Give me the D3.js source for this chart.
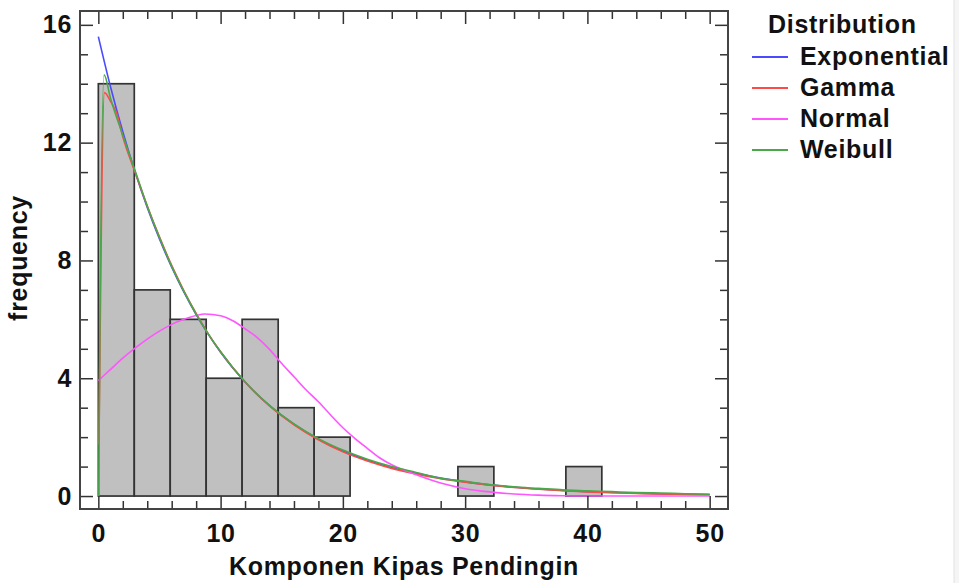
<!DOCTYPE html>
<html>
<head>
<meta charset="utf-8">
<script src="https://cdn.jsdelivr.net/npm/d3@7"></script>
<style>
  body { margin: 0; background: #fff; }
  text { font-family: "Liberation Sans", Arial, sans-serif; font-weight: bold; fill: #111; letter-spacing: 0.7px; }
</style>
</head>
<body>
<div id="container"></div>
<script>
// histogram bins (edges) and counts
var binEdges = [0, 2.94, 5.88, 8.82, 11.76, 14.71, 17.65, 20.59, 23.53, 26.47, 29.41, 32.35, 35.29, 38.24, 41.18, 44.12, 47.06, 50];
var counts = [14, 7, 6, 4, 6, 3, 2, 0, 0, 0, 1, 0, 0, 1, 0, 0, 0];

// fitted curves
var expX = [0, 1, 2, 3, 4, 5, 6, 7, 8, 9, 10, 12, 14, 16, 18, 20, 22, 24, 26, 28, 30, 32, 34, 36, 38, 40, 42, 44, 46, 48, 50];
var expY = [15.6, 13.89, 12.37, 11.01, 9.8, 8.73, 7.77, 6.92, 6.16, 5.49, 4.88, 3.87, 3.07, 2.44, 1.93, 1.53, 1.22, 0.96, 0.77, 0.61, 0.48, 0.38, 0.3, 0.24, 0.19, 0.15, 0.12, 0.095, 0.075, 0.06, 0.047];

var gammaX = [0.05, 0.5, 1, 1.5, 2, 3, 4, 5, 6, 7, 8, 9, 10, 12, 14, 16, 18, 20, 22, 24, 26, 28, 30, 32, 34, 36, 38, 40, 42, 44, 46, 48, 50];
var gammaY = [1.75, 13.7, 13.4, 13.0, 12.2, 11.0, 9.85, 8.8, 7.83, 6.97, 6.2, 5.5, 4.9, 3.87, 3.06, 2.42, 1.91, 1.5, 1.19, 0.94, 0.75, 0.59, 0.47, 0.37, 0.29, 0.23, 0.18, 0.14, 0.11, 0.09, 0.07, 0.055, 0.045];

var normX = [0, 1, 2, 3, 4, 5, 6, 7, 8, 8.7, 10, 11, 12, 13, 14, 15, 16, 17, 18, 19, 20, 21, 22, 23, 24, 25, 26, 28, 30, 32, 34, 36, 38, 40, 45, 50];
var normY = [3.92, 4.3, 4.68, 5.02, 5.33, 5.6, 5.83, 6.0, 6.13, 6.18, 6.12, 5.95, 5.68, 5.38, 4.98, 4.5, 4.05, 3.6, 3.2, 2.75, 2.32, 1.95, 1.62, 1.3, 1.06, 0.88, 0.72, 0.44, 0.25, 0.14, 0.07, 0.03, 0.01, 0, 0, 0];

var weibX = [0.04, 0.06, 0.47, 1, 2, 3, 4, 5, 6, 7, 8, 9, 10, 12, 14, 16, 18, 20, 22, 24, 26, 28, 30, 32, 34, 36, 38, 40, 42, 44, 46, 48, 50];
var weibY = [0, 1.75, 14.3, 13.5, 12.25, 11.05, 9.85, 8.78, 7.8, 6.95, 6.18, 5.5, 4.9, 3.88, 3.08, 2.45, 1.95, 1.56, 1.25, 1.0, 0.8, 0.6, 0.5, 0.39, 0.31, 0.26, 0.21, 0.18, 0.15, 0.12, 0.1, 0.08, 0.06];

var keys = ["Exponential", "Gamma", "Normal", "Weibull"];
var colors = ["#4a4aff", "#ff4a4a", "#ff55ff", "#4aa84a"];

var xTicks = [0, 10, 20, 30, 40, 50];
var yTicks = [0, 4, 8, 12, 16];

var width = 959;
var height = 583;
var margin = {left: 80, top: 11, right: 231, bottom: 74};

const svg = d3.select("#container")
              .append("svg")
              .attr("width", width)
              .attr("height", height);

// faint window edge on the right
svg.append("rect")
   .attr("x", 954).attr("y", 0)
   .attr("width", 5).attr("height", height)
   .attr("fill", "#f5f5f5");
svg.append("line")
   .attr("x1", 954).attr("x2", 954)
   .attr("y1", 0).attr("y2", height)
   .attr("stroke", "#e2e2e2");

var xScale = d3.scaleLinear()
               .domain([-1.5, 51.5])
               .range([margin.left, width - margin.right]);

var yScale = d3.scaleLinear()
               .domain([-0.44, 16.47])
               .range([height - margin.bottom, margin.top]);

var x0 = margin.left, x1 = width - margin.right;
var y0 = height - margin.bottom, y1 = margin.top;

// histogram bars
var bins = counts.map((c, i) => ({x0: binEdges[i], x1: binEdges[i + 1], n: c}));

svg.selectAll("rect.bar")
   .data(bins)
   .enter()
   .append("rect")
   .attr("class", "bar")
   .attr("x", d => xScale(d.x0))
   .attr("y", d => yScale(d.n))
   .attr("width", d => xScale(d.x1) - xScale(d.x0))
   .attr("height", d => yScale(0) - yScale(d.n))
   .attr("fill", "#c0c0c0")
   .attr("stroke", "#333")
   .attr("stroke-width", 1.7);

// curves
var series = [
    {name: "Exponential", xs: expX, ys: expY},
    {name: "Gamma", xs: gammaX, ys: gammaY},
    {name: "Normal", xs: normX, ys: normY},
    {name: "Weibull", xs: weibX, ys: weibY}
];

var line = d3.line()
             .x(d => xScale(d[0]))
             .y(d => yScale(d[1]))
             .curve(d3.curveMonotoneX);

series.forEach((s, i) => {
    svg.append("path")
       .datum(s.xs.map((x, j) => [x, s.ys[j]]))
       .attr("d", line)
       .attr("fill", "none")
       .attr("stroke", colors[i])
       .attr("stroke-width", 1.6);
});

// axes: ticks all point inward, frame drawn separately
function styleAxis (g) {
    g.select(".domain").remove();
    g.selectAll(".tick line").attr("stroke", "#333").attr("stroke-width", 1.5);
    g.attr("font-size", 25)
     .attr("font-family", "'Liberation Sans', Arial, sans-serif")
     .attr("font-weight", "bold");
    g.selectAll(".tick text").attr("fill", "#111");
}

var xMinor = d3.range(0, 51, 2).filter(v => v % 10 != 0);
var yMinor = d3.range(0, 17, 1).filter(v => v % 4 != 0);

svg.append("g")
   .attr("transform", "translate(0," + y0 + ")")
   .call(d3.axisBottom(xScale).tickValues(xTicks).tickSize(-13).tickPadding(15).tickFormat(d3.format("d")))
   .call(styleAxis);
svg.append("g")
   .attr("transform", "translate(0," + y0 + ")")
   .call(d3.axisBottom(xScale).tickValues(xMinor).tickSize(-8).tickFormat(""))
   .call(styleAxis);
svg.append("g")
   .attr("transform", "translate(0," + y1 + ")")
   .call(d3.axisTop(xScale).tickValues(xTicks).tickSize(-13).tickFormat(""))
   .call(styleAxis);
svg.append("g")
   .attr("transform", "translate(0," + y1 + ")")
   .call(d3.axisTop(xScale).tickValues(xMinor).tickSize(-8).tickFormat(""))
   .call(styleAxis);

svg.append("g")
   .attr("transform", "translate(" + x0 + ",0)")
   .call(d3.axisLeft(yScale).tickValues(yTicks).tickSize(-13).tickPadding(8).tickFormat(d3.format("d")))
   .call(styleAxis);
svg.append("g")
   .attr("transform", "translate(" + x0 + ",0)")
   .call(d3.axisLeft(yScale).tickValues(yMinor).tickSize(-8).tickFormat(""))
   .call(styleAxis);
svg.append("g")
   .attr("transform", "translate(" + x1 + ",0)")
   .call(d3.axisRight(yScale).tickValues(yTicks).tickSize(-13).tickFormat(""))
   .call(styleAxis);
svg.append("g")
   .attr("transform", "translate(" + x1 + ",0)")
   .call(d3.axisRight(yScale).tickValues(yMinor).tickSize(-8).tickFormat(""))
   .call(styleAxis);

// frame
svg.append("rect")
   .attr("x", x0).attr("y", y1)
   .attr("width", x1 - x0).attr("height", y0 - y1)
   .attr("fill", "none")
   .attr("stroke", "#444")
   .attr("stroke-width", 2);

// axis labels
svg.append("text")
   .attr("x", (x0 + x1) / 2)
   .attr("y", 575)
   .attr("text-anchor", "middle")
   .style("font-size", "25px")
   .text("Komponen Kipas Pendingin");

svg.append("text")
   .attr("transform", "rotate(-90)")
   .attr("x", -258)
   .attr("y", 27)
   .attr("text-anchor", "middle")
   .style("font-size", "25px")
   .text("frequency");

// legend
svg.append("text")
   .attr("x", 768)
   .attr("y", 33)
   .style("font-size", "25px")
   .text("Distribution");

var legendY = [57, 88, 119, 150];

svg.selectAll("legendlines")
   .data(keys)
   .enter()
   .append("line")
   .attr("x1", 752).attr("x2", 788)
   .attr("y1", (d, i) => legendY[i])
   .attr("y2", (d, i) => legendY[i])
   .attr("stroke", (d, i) => colors[i])
   .attr("stroke-width", 2.2);

svg.selectAll("legendlabels")
   .data(keys)
   .enter()
   .append("text")
   .attr("x", 800)
   .attr("y", (d, i) => legendY[i] + 8)
   .style("font-size", "25px")
   .text(d => d);
</script>
</body>
</html>
